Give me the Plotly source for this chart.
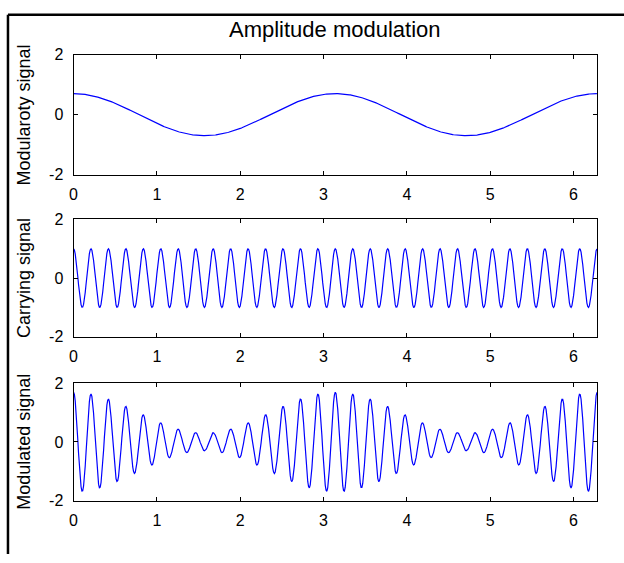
import numpy as np
import plotly.graph_objects as go

# Parameters
t_start = 0.0
t_end = 2 * np.pi
t_step = 0.01
mod_amplitude = 0.7      # peak of modulating signal
mod_freq = 2.0           # rad per unit (2 cycles over 0..2pi)
carrier_amplitude = 1.0
carrier_freq = 30.0      # rad per unit

x_ticks = [0, 1, 2, 3, 4, 5, 6]
y_ticks = [-2, 0, 2]
y_tick_text = ["-2", "0", "2"]
panel_labels = ["Modularoty signal", "Carrying signal", "Modulated signal"]
title_text = "Amplitude modulation"

t = np.arange(t_start, t_end + t_step / 2, t_step)
modulating = mod_amplitude * np.cos(mod_freq * t)
carrier = carrier_amplitude * np.cos(carrier_freq * t)
modulated = (1 + modulating) * carrier
series = [modulating, carrier, modulated]

W, H = 624, 563
fig = go.Figure()

boxes = [(48, 172), (218, 339), (387, 508)]
x0px, x1px = 70, 597

font_family = "Liberation Sans, Arial, sans-serif"
for i, (ys, (top, bot)) in enumerate(zip(series, boxes)):
    idx = "" if i == 0 else str(i + 1)
    fig.add_trace(go.Scatter(x=t, y=ys, mode="lines",
                             line=dict(color="#0000ff", width=1.2),
                             xaxis="x" + idx, yaxis="y" + idx,
                             showlegend=False, hoverinfo="skip"))
    axcommon = dict(showline=True, linecolor="black", linewidth=1, mirror="ticks",
                    ticks="inside", ticklen=4, tickcolor="black", showgrid=False,
                    zeroline=False, tickfont=dict(family=font_family, size=16, color="black"))
    fig.layout["xaxis" + idx] = dict(domain=[x0px / W, x1px / W], range=[t_start, t_end],
                                     tickvals=x_ticks, anchor="y" + idx,
                                     ticklabelstandoff=5, **axcommon)
    fig.layout["yaxis" + idx] = dict(domain=[(H - bot) / H, (H - top) / H], range=[-2, 2],
                                     tickvals=y_ticks, ticktext=y_tick_text, anchor="x" + idx,
                                     ticklabelstandoff=6, **axcommon)
    fig.add_annotation(text=panel_labels[i], textangle=-90, x=20 / W, xref="paper",
                       y=((H - bot) + (H - top)) / 2 / H, yref="paper",
                       xanchor="center", yanchor="middle", showarrow=False,
                       font=dict(family=font_family, size=18, color="black"))

fig.add_annotation(text=title_text, x=((x0px + x1px) / 2) / W, xref="paper",
                   y=(H - 22) / H, yref="paper", xanchor="center", yanchor="middle",
                   showarrow=False, font=dict(family=font_family, size=22, color="black"))

fig.add_shape(type="line", xref="paper", yref="paper", x0=4 / W, x1=1.0,
              y0=(H - 7) / H, y1=(H - 7) / H, line=dict(color="black", width=2.5))
fig.add_shape(type="line", xref="paper", yref="paper", x0=4 / W, x1=4 / W,
              y0=0, y1=(H - 7) / H, line=dict(color="black", width=2.5))

fig.update_layout(width=W, height=H, margin=dict(l=0, r=0, t=0, b=0),
                  paper_bgcolor="white", plot_bgcolor="white")
fig.write_html("out.html", config={"displayModeBar": False},
               post_script="document.body.style.margin='0';document.body.style.padding='0';")
